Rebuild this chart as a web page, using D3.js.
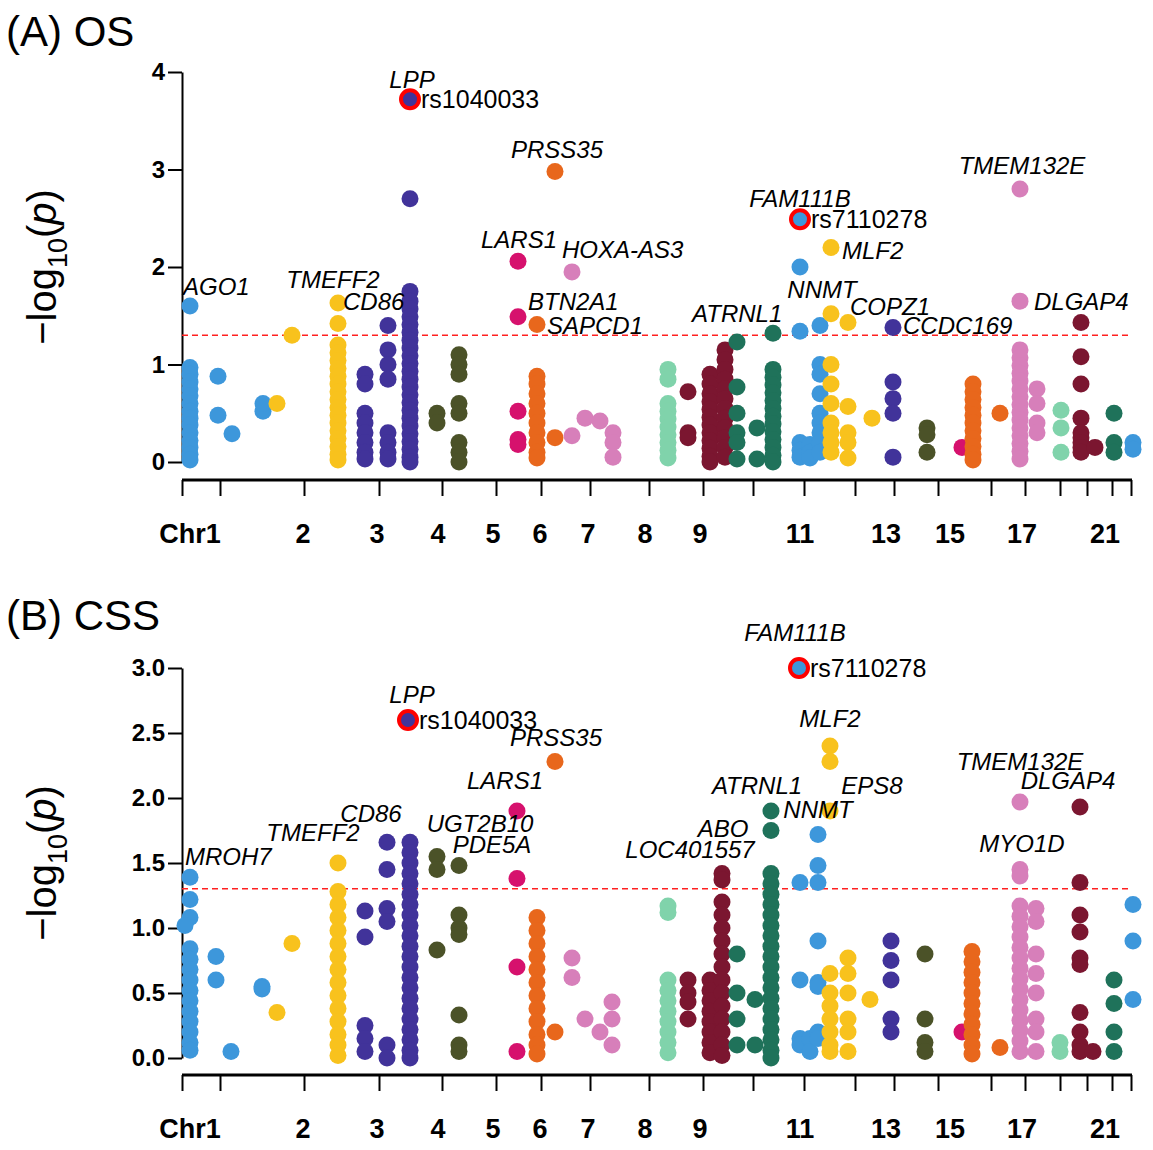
<!DOCTYPE html>
<html>
<head>
<meta charset="UTF-8">
<script src="https://d3js.org/d3.v7.min.js"></script>
<style>
  body { margin: 0; background: #fff; font-family: "Liberation Sans", Arial, sans-serif; }
</style>
</head>
<body>
<div id="chart"></div>
<script>
// Palette cycles every 10 chromosomes
const palette = ["#3d97db", "#f8c21d", "#41339a", "#4b5228", "#d6116d",
                 "#e8671c", "#d77fba", "#80d3ab", "#7b1630", "#1f725a"];

// x axis ticks (genome position units) and chromosome labels
const tickPos = [0, 38, 122, 197, 260, 314, 359, 408, 467, 521, 571, 622, 673, 712, 756, 809, 843, 878, 905, 930, 949];
const chrLabels = [
  {t: "Chr1", x: 8}, {t: "2", x: 121}, {t: "3", x: 195}, {t: "4", x: 256},
  {t: "5", x: 311}, {t: "6", x: 358}, {t: "7", x: 406}, {t: "8", x: 463},
  {t: "9", x: 518}, {t: "11", x: 618}, {t: "13", x: 704}, {t: "15", x: 768},
  {t: "17", x: 840}, {t: "21", x: 923}
];

// columns: color index, genome position, -log10(p) values
const osColumns = [
  [0, 8, [1.6, 0.97, 0.9, 0.82, 0.75, 0.68, 0.6, 0.52, 0.45, 0.38, 0.3, 0.22, 0.15, 0.08, 0.02]],
  [0, 36, [0.88, 0.48]], [0, 50, [0.29]], [0, 81, [0.52, 0.6]],
  [1, 95, [0.6]], [1, 110, [1.3]],
  [1, 156, [1.63, 1.42, 1.2, 1.12, 1.04, 0.96, 0.88, 0.8, 0.72, 0.64, 0.56, 0.48, 0.4, 0.32, 0.24, 0.16, 0.08, 0.02]],
  [2, 183, [0.9, 0.8, 0.5, 0.4, 0.3, 0.2, 0.1, 0.03]],
  [2, 206, [1.4, 1.15, 1.0, 0.85, 0.3, 0.2, 0.1, 0.03]],
  [2, 228, [2.7, 1.75, 1.65, 1.57, 1.49, 1.41, 1.33, 1.25, 1.17, 1.09, 1.01, 0.93, 0.85, 0.77, 0.69, 0.61, 0.53, 0.45, 0.37, 0.29, 0.21, 0.13, 0.05, 0.0]],
  [3, 255, [0.5, 0.4]], [3, 277, [1.1, 1.0, 0.9, 0.6, 0.5, 0.2, 0.1, 0.0]],
  [4, 336, [2.06, 1.49, 0.52, 0.23, 0.18]],
  [5, 355, [1.41, 0.88, 0.8, 0.7, 0.6, 0.5, 0.4, 0.3, 0.2, 0.1, 0.04]],
  [5, 373, [2.98, 0.25]],
  [6, 390, [1.95, 0.27]], [6, 403, [0.45]], [6, 418, [0.42]], [6, 431, [0.3, 0.2, 0.05]],
  [7, 486, [0.95, 0.85, 0.6, 0.52, 0.44, 0.36, 0.28, 0.2, 0.12, 0.04]],
  [8, 506, [0.72, 0.3, 0.25]],
  [8, 528, [0.9, 0.8, 0.7, 0.62, 0.54, 0.46, 0.38, 0.3, 0.22, 0.14, 0.06, 0.0]],
  [8, 543, [1.15, 1.05, 0.95, 0.85, 0.75, 0.65, 0.55, 0.45, 0.35, 0.25, 0.15, 0.05]],
  [9, 555, [1.23, 0.77, 0.5, 0.3, 0.2, 0.03]], [9, 575, [0.35, 0.03]],
  [9, 591, [1.32, 0.95, 0.87, 0.79, 0.71, 0.63, 0.55, 0.47, 0.39, 0.31, 0.23, 0.15, 0.07, 0.0]],
  [0, 618, [2.0, 1.34, 0.2, 0.12, 0.05]], [0, 628, [0.18, 0.1, 0.04]],
  [0, 638, [1.4, 1.0, 0.9, 0.7, 0.5, 0.4, 0.3, 0.2, 0.1]],
  [1, 649, [2.2, 1.52, 1.0, 0.8, 0.6, 0.4, 0.3, 0.2, 0.1]],
  [1, 666, [1.43, 0.57, 0.3, 0.2, 0.04]], [1, 690, [0.45]],
  [2, 711, [1.38, 0.82, 0.65, 0.5, 0.05]],
  [3, 745, [0.35, 0.28, 0.1]],
  [4, 780, [0.15]],
  [5, 791, [0.8, 0.72, 0.64, 0.56, 0.48, 0.4, 0.32, 0.24, 0.16, 0.08, 0.02]],
  [5, 818, [0.5]],
  [6, 838, [2.8, 1.65, 1.15, 1.07, 0.99, 0.91, 0.83, 0.75, 0.67, 0.59, 0.51, 0.43, 0.35, 0.27, 0.19, 0.11, 0.03]],
  [6, 855, [0.75, 0.6, 0.4, 0.3]],
  [7, 879, [0.53, 0.35, 0.1]],
  [8, 899, [1.43, 1.08, 0.8, 0.45, 0.3, 0.25, 0.2, 0.15, 0.1]], [8, 913, [0.15]],
  [9, 932, [0.5, 0.2, 0.1]],
  [0, 951, [0.2, 0.13]]
];

const cssColumns = [
  [0, 8, [1.39, 1.22, 1.08, 0.84, 0.76, 0.68, 0.6, 0.52, 0.44, 0.36, 0.28, 0.2, 0.12, 0.06]],
  [0, 3, [1.02]],
  [0, 34, [0.78, 0.6]], [0, 49, [0.05]], [0, 80, [0.55, 0.53]],
  [1, 95, [0.35]], [1, 110, [0.88]],
  [1, 156, [1.5, 1.28, 1.18, 1.08, 0.98, 0.88, 0.78, 0.68, 0.58, 0.48, 0.38, 0.28, 0.18, 0.1, 0.02]],
  [2, 183, [1.13, 0.93, 0.25, 0.15, 0.05]],
  [2, 205, [1.66, 1.45, 1.15, 1.05, 0.1, 0.0]],
  [2, 228, [1.66, 1.58, 1.5, 1.42, 1.34, 1.26, 1.18, 1.1, 1.02, 0.94, 0.86, 0.78, 0.7, 0.62, 0.54, 0.46, 0.38, 0.3, 0.22, 0.14, 0.06, 0.0]],
  [3, 255, [1.55, 1.45, 0.83]], [3, 277, [1.48, 1.1, 1.0, 0.95, 0.33, 0.1, 0.05]],
  [4, 335, [1.9, 1.38, 0.7, 0.05]],
  [5, 355, [1.08, 0.98, 0.88, 0.78, 0.68, 0.58, 0.48, 0.38, 0.28, 0.18, 0.1, 0.03]],
  [5, 373, [2.28, 0.2]],
  [6, 390, [0.77, 0.62]], [6, 403, [0.3]], [6, 418, [0.2]], [6, 430, [0.43, 0.3, 0.1]],
  [7, 486, [1.17, 1.12, 0.6, 0.52, 0.44, 0.36, 0.28, 0.2, 0.12, 0.04]],
  [8, 506, [0.6, 0.5, 0.43, 0.3]],
  [8, 528, [0.6, 0.52, 0.44, 0.36, 0.28, 0.2, 0.12, 0.04]],
  [8, 540, [1.42, 1.37, 1.2, 1.1, 1.0, 0.9, 0.8, 0.7, 0.6, 0.5, 0.4, 0.3, 0.2, 0.1, 0.02]],
  [9, 555, [0.8, 0.5, 0.3, 0.1]], [9, 573, [0.45, 0.1]],
  [9, 589, [1.9, 1.75, 1.42, 1.34, 1.26, 1.18, 1.1, 1.02, 0.94, 0.86, 0.78, 0.7, 0.62, 0.54, 0.46, 0.38, 0.3, 0.22, 0.14, 0.06, 0.0]],
  [0, 618, [1.35, 0.6, 0.15, 0.1]], [0, 628, [0.15, 0.05]],
  [0, 636, [1.72, 1.48, 1.35, 0.9, 0.58, 0.55, 0.2, 0.15]],
  [1, 648, [2.4, 2.28, 1.9, 0.65, 0.5, 0.4, 0.3, 0.2, 0.1, 0.05]],
  [1, 666, [0.77, 0.65, 0.5, 0.3, 0.2, 0.05]], [1, 688, [0.45]],
  [2, 709, [0.9, 0.75, 0.6, 0.3, 0.2]],
  [3, 743, [0.8, 0.3, 0.12, 0.05]],
  [4, 780, [0.2]],
  [5, 790, [0.82, 0.74, 0.66, 0.58, 0.5, 0.42, 0.34, 0.26, 0.18, 0.1, 0.03]],
  [5, 818, [0.08]],
  [6, 838, [1.97, 1.45, 1.4, 1.17, 1.09, 1.01, 0.93, 0.85, 0.77, 0.69, 0.61, 0.53, 0.45, 0.37, 0.29, 0.21, 0.13, 0.05]],
  [6, 854, [1.15, 1.05, 0.8, 0.65, 0.5, 0.3, 0.2, 0.05]],
  [7, 878, [0.12, 0.05]],
  [8, 898, [1.93, 1.35, 1.1, 0.97, 0.77, 0.72, 0.35, 0.2, 0.1, 0.05]], [8, 911, [0.05]],
  [9, 932, [0.6, 0.42, 0.2, 0.05]],
  [0, 951, [1.18, 0.9, 0.45]]
];

// lead SNPs: color index, position, value, rsid
const osLead = [[2, 228, 3.72, "rs1040033"], [0, 618, 2.49, "rs7110278"]];
const cssLead = [[2, 226, 2.6, "rs1040033"], [0, 617, 3.0, "rs7110278"]];

// gene labels: text, genome position, value, anchor
const osGenes = [
  ["LPP", 230, 3.92, "middle"], ["PRSS35", 375, 3.2, "middle"], ["TMEM132E", 840, 3.04, "middle"],
  ["FAM111B", 618, 2.7, "middle"], ["LARS1", 337, 2.28, "middle"], ["HOXA-AS3", 380, 2.17, "start"],
  ["MLF2", 660, 2.16, "start"], ["AGO1", 1, 1.8, "start"], ["TMEFF2", 151, 1.87, "middle"],
  ["CD86", 161, 1.64, "start"], ["NNMT", 640, 1.76, "middle"], ["BTN2A1", 346, 1.64, "start"],
  ["COPZ1", 668, 1.59, "start"], ["DLGAP4", 852, 1.64, "start"], ["ATRNL1", 510, 1.52, "start"],
  ["SAPCD1", 365, 1.4, "start"], ["CCDC169", 721, 1.4, "start"]
];
const cssGenes = [
  ["FAM111B", 613, 3.27, "middle"], ["LPP", 230, 2.79, "middle"], ["MLF2", 648, 2.61, "middle"],
  ["PRSS35", 374, 2.46, "middle"], ["TMEM132E", 838, 2.28, "middle"], ["LARS1", 323, 2.13, "middle"],
  ["ATRNL1", 575, 2.09, "middle"], ["EPS8", 690, 2.09, "middle"], ["DLGAP4", 886, 2.13, "middle"],
  ["CD86", 189, 1.88, "middle"], ["NNMT", 636, 1.91, "middle"], ["UGT2B10", 298, 1.8, "middle"],
  ["ABO", 541, 1.76, "middle"], ["TMEFF2", 131, 1.73, "middle"], ["MROH7", 3, 1.55, "start"],
  ["PDE5A", 310, 1.64, "middle"], ["LOC401557", 508, 1.6, "middle"], ["MYO1D", 840, 1.65, "middle"]
];

const svg = d3.select("#chart").append("svg").attr("width", 1153).attr("height", 1150);

function panel(opt) {
  const x = d3.scaleLinear().domain([0, 950]).range([182, 1132]);
  const y = d3.scaleLinear().domain([0, opt.ymax]).range([opt.y0, opt.y1]);
  const g = svg.append("g");

  g.append("text").attr("x", 6).attr("y", opt.titleY).attr("font-size", 42).text(opt.title);

  const yAxis = g.append("g").attr("transform", "translate(182,0)")
    .call(d3.axisLeft(y).tickValues(opt.yticks).tickFormat(opt.fmt).tickSize(14).tickSizeOuter(0));
  yAxis.select(".domain").attr("stroke-width", 2);
  yAxis.selectAll(".tick line").attr("stroke-width", 2);
  yAxis.selectAll("text").attr("font-size", 24).attr("font-weight", "bold").attr("fill", "#000")
    .attr("font-family", "Arial, 'Liberation Sans', sans-serif");

  const xAxis = g.append("g").attr("transform", `translate(0,${opt.axisY})`)
    .call(d3.axisBottom(x).tickValues(tickPos).tickFormat("").tickSize(16).tickSizeOuter(0));
  xAxis.select(".domain").attr("stroke-width", 3).attr("d", `M182,0H1132`);
  xAxis.selectAll(".tick line").attr("stroke-width", 2);

  g.selectAll(".chr").data(chrLabels).join("text")
    .attr("x", d => x(d.x)).attr("y", opt.axisY + 63)
    .attr("text-anchor", "middle").attr("font-size", 27).attr("font-weight", "bold")
    .text(d => d.t);

  g.append("text")
    .attr("transform", `translate(56,${(opt.y0 + opt.y1) / 2}) rotate(-90)`)
    .attr("text-anchor", "middle").attr("font-size", 40)
    .html('\u2212log<tspan font-size="27" dy="11">10</tspan><tspan dy="-11">(</tspan><tspan font-style="italic">p</tspan>)');

  g.append("line").attr("x1", 182).attr("x2", 1132)
    .attr("y1", y(-Math.log10(0.05))).attr("y2", y(-Math.log10(0.05)))
    .attr("stroke", "#ff2020").attr("stroke-width", 1.5).attr("stroke-dasharray", "6,4");

  const pts = opt.columns.flatMap(([c, p, vs]) => vs.map(v => ({c, p, v})));
  g.selectAll(".pt").data(pts).join("circle")
    .attr("cx", d => x(d.p)).attr("cy", d => y(d.v)).attr("r", 8.5)
    .attr("fill", d => palette[d.c]);

  opt.lead.forEach(([c, p, v, rs]) => {
    g.append("circle").attr("cx", x(p)).attr("cy", y(v)).attr("r", 9)
      .attr("fill", palette[c]).attr("stroke", "#ff0000").attr("stroke-width", 4);
    g.append("text").attr("x", x(p) + 11).attr("y", y(v) + 9).attr("font-size", 25).text(rs);
  });

  g.selectAll(".gene").data(opt.genes).join("text")
    .attr("x", d => x(d[1])).attr("y", d => y(d[2]) + 8)
    .attr("text-anchor", d => d[3]).attr("font-size", 24).attr("font-style", "italic")
    .text(d => d[0]);
}

panel({title: "(A) OS", titleY: 46, ymax: 4, y0: 462, y1: 72, axisY: 480,
  yticks: [0, 1, 2, 3, 4], fmt: d3.format("d"),
  columns: osColumns, lead: osLead, genes: osGenes});
panel({title: "(B) CSS", titleY: 630, ymax: 3, y0: 1058, y1: 668, axisY: 1075,
  yticks: [0, 0.5, 1, 1.5, 2, 2.5, 3], fmt: d3.format(".1f"),
  columns: cssColumns, lead: cssLead, genes: cssGenes});
</script>
</body>
</html>
